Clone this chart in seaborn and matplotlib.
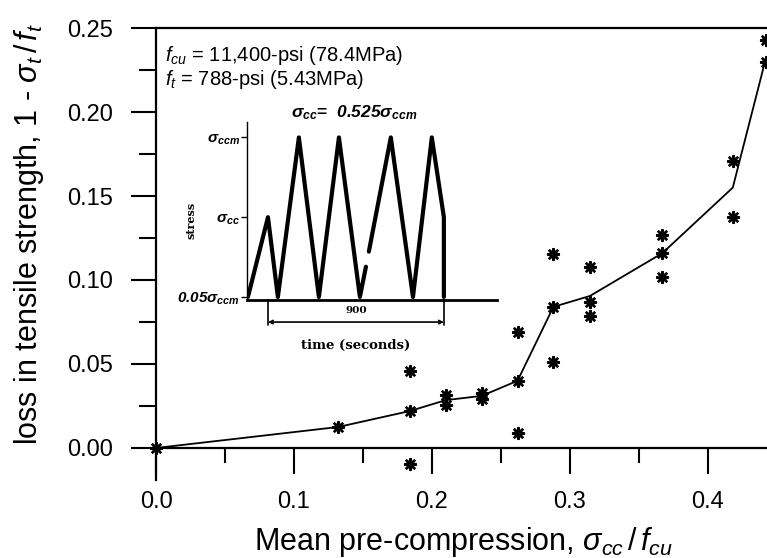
import numpy as np
import pandas as pd
import seaborn as sns
import matplotlib
matplotlib.use("Agg")
import matplotlib.pyplot as plt
from matplotlib.ticker import MultipleLocator, FormatStrFormatter
import matplotlib.transforms as mtransforms

# ------------------------------------------------------------------
# data
# ------------------------------------------------------------------
# test results, loss in tensile strength vs mean pre-compression
test_x = [0.0, 0.132,
          0.184, 0.184, 0.184,
          0.210, 0.210,
          0.236, 0.236,
          0.262, 0.262, 0.262,
          0.288, 0.288, 0.288,
          0.3145, 0.3145, 0.3145,
          0.367, 0.367, 0.367,
          0.418, 0.418,
          0.442, 0.442]
test_y = [0.0, 0.0125,
          0.046, 0.022, -0.0095,
          0.0315, 0.0255,
          0.033, 0.029,
          0.069, 0.040, 0.009,
          0.1155, 0.084, 0.051,
          0.108, 0.087, 0.0786,
          0.127, 0.116, 0.102,
          0.171, 0.1375,
          0.243, 0.230]

# mean curve through the tests
fit_x = [0.0, 0.132, 0.184, 0.210, 0.236, 0.262, 0.288, 0.3145, 0.367, 0.418, 0.442]
fit_y = [0.0, 0.0125, 0.022, 0.0285, 0.031, 0.040, 0.084, 0.0905, 0.116, 0.155, 0.232]

# inset: loading history (time in s, stress as fraction of sigma_ccm)
wave_t = [0, 103, 154, 262, 365, 468, 576, 607,
          622, 735, 849, 946, 1008, 1008]
wave_s = [0.05, 0.525, 0.05, 1.0, 0.05, 1.0, 0.05, 0.23,
          0.32, 1.0, 0.05, 1.0, 0.525, 0.05]
wave_seg = [0, 0, 0, 0, 0, 0, 0, 0,
            1, 1, 1, 1, 1, 1]
wave_levels = [1.0, 0.525, 0.05]
wave_level_labels = [r"$\mathbf{\sigma_{ccm}}$", r"$\mathbf{\sigma_{cc}}$",
                     r"$\mathbf{0.05\sigma_{ccm}}$"]
span_secs = [103, 1008]
span_text = "900"

x_ticks = [0.0, 0.1, 0.2, 0.3, 0.4]
y_ticks = [0.00, 0.05, 0.10, 0.15, 0.20, 0.25]

# ------------------------------------------------------------------
# style
# ------------------------------------------------------------------
sns.set_style("ticks")
plt.rcParams['font.family'] = ['Liberation Sans', 'DejaVu Sans']
plt.rcParams['mathtext.fontset'] = 'custom'
plt.rcParams['mathtext.rm'] = 'Liberation Sans'
plt.rcParams['mathtext.it'] = 'Liberation Sans:italic'
plt.rcParams['mathtext.bf'] = 'Liberation Sans:italic:bold'
for key in ['text.color', 'axes.labelcolor', 'xtick.color', 'ytick.color', 'axes.edgecolor']:
    plt.rcParams[key] = 'black'

fig = plt.figure(figsize=(7.67, 5.58), dpi=100)
ax = fig.add_axes([0.2034, 0.1398, 0.7966, 0.8100])

testDF = pd.DataFrame({"x": test_x, "y": test_y})
fitDF = pd.DataFrame({"x": fit_x, "y": fit_y})

sns.lineplot(data=fitDF, x="x", y="y", estimator=None, sort=False,
             color="black", linewidth=1.3, ax=ax)
sns.scatterplot(data=testDF, x="x", y="y", marker=(8, 2, 0), s=60,
                color="black", edgecolor="black", linewidth=1.8,
                clip_on=False, zorder=5, ax=ax)

ax.set_xlim(0, 0.4428)
ax.set_ylim(-0.01905, 0.25)

ax.spines['right'].set_visible(False)
ax.spines['bottom'].set_position(('data', 0))
for s in ['left', 'bottom', 'top']:
    ax.spines[s].set_linewidth(1.6)

ax.set_xticks(x_ticks)
ax.set_yticks(y_ticks)
ax.xaxis.set_minor_locator(MultipleLocator(0.05))
ax.yaxis.set_minor_locator(MultipleLocator(0.025))
ax.xaxis.set_major_formatter(FormatStrFormatter('%.1f'))
ax.yaxis.set_major_formatter(FormatStrFormatter('%.2f'))
ax.tick_params(axis='x', which='major', length=19, width=1.5, pad=12, labelsize=17)
ax.tick_params(axis='x', which='minor', length=11, width=1.5)
ax.tick_params(axis='y', which='major', length=18, width=1.5, pad=13, labelsize=17)
ax.tick_params(axis='y', which='minor', length=12, width=1.5)

ax.set_xlabel(r"Mean pre-compression, $\sigma_{cc}\,/\,f_{cu}$", fontsize=22)
ax.set_ylabel(r"loss in tensile strength, 1 - $\sigma_t\,/\,f_t$", fontsize=22)
ax.xaxis.set_label_coords(0.504, -0.10)
ax.yaxis.set_label_coords(-0.18, 0.545)

ax.text(0.0147, 0.940, r"$f_{cu}$ = 11,400-psi (78.4MPa)", transform=ax.transAxes,
        fontsize=14.5, va='center', ha='left')
ax.text(0.0147, 0.885, r"$f_t$ = 788-psi (5.43MPa)", transform=ax.transAxes,
        fontsize=14.5, va='center', ha='left')

# ------------------------------------------------------------------
# inset: loading history
# ------------------------------------------------------------------
ins = fig.add_axes([0.3220, 0.4624, 0.3259, 0.3190])
ins.patch.set_alpha(0)
waveDF = pd.DataFrame({"t": wave_t, "s": wave_s, "seg": wave_seg})
sns.lineplot(data=waveDF, x="t", y="s", units="seg", estimator=None, sort=False,
             color="black", linewidth=3.0, ax=ins, legend=False)
ins.set_xlim(-5, 1281)
ins.set_ylim(0.032, 1.092)
ins.spines['top'].set_visible(False)
ins.spines['right'].set_visible(False)
ins.spines['left'].set_linewidth(1.0)
ins.spines['bottom'].set_linewidth(2.0)
ins.set_xticks([])
ins.set_yticks(wave_levels)
ins.set_yticklabels(wave_level_labels)
ins.tick_params(axis='y', length=4, width=1, pad=1, labelsize=11)
ins.set_xlabel("")
ins.set_ylabel("stress", fontsize=8, fontweight='bold', family='DejaVu Serif')
ins.yaxis.set_label_coords(-0.2, 0.45)
ins.set_title(r"$\mathbf{\sigma_{cc}}$=  $\mathbf{0.525\sigma_{ccm}}$", fontsize=12.5,
              fontweight='bold', pad=2, x=0.43)

trans = mtransforms.blended_transform_factory(ins.transData, ins.transAxes)
for t in span_secs:
    ins.plot([t, t], [0, -0.14], color='black', lw=1.2, transform=trans, clip_on=False)
ins.annotate("", xy=(span_secs[0], -0.124), xytext=(span_secs[1], -0.124),
             xycoords=trans, textcoords=trans,
             arrowprops=dict(arrowstyle='<->', color='black', lw=1.2,
                             shrinkA=0, shrinkB=0, mutation_scale=6))
ins.text(np.mean(span_secs), -0.06, span_text, transform=trans, ha='center',
         va='center', fontsize=7.5, fontweight='bold', family='DejaVu Serif')
ins.text(np.mean(span_secs), -0.253, "time (seconds)", transform=trans, ha='center',
         va='center', fontsize=9.5, fontweight='bold', family='DejaVu Serif')

plt.savefig("out.png", dpi=100)
